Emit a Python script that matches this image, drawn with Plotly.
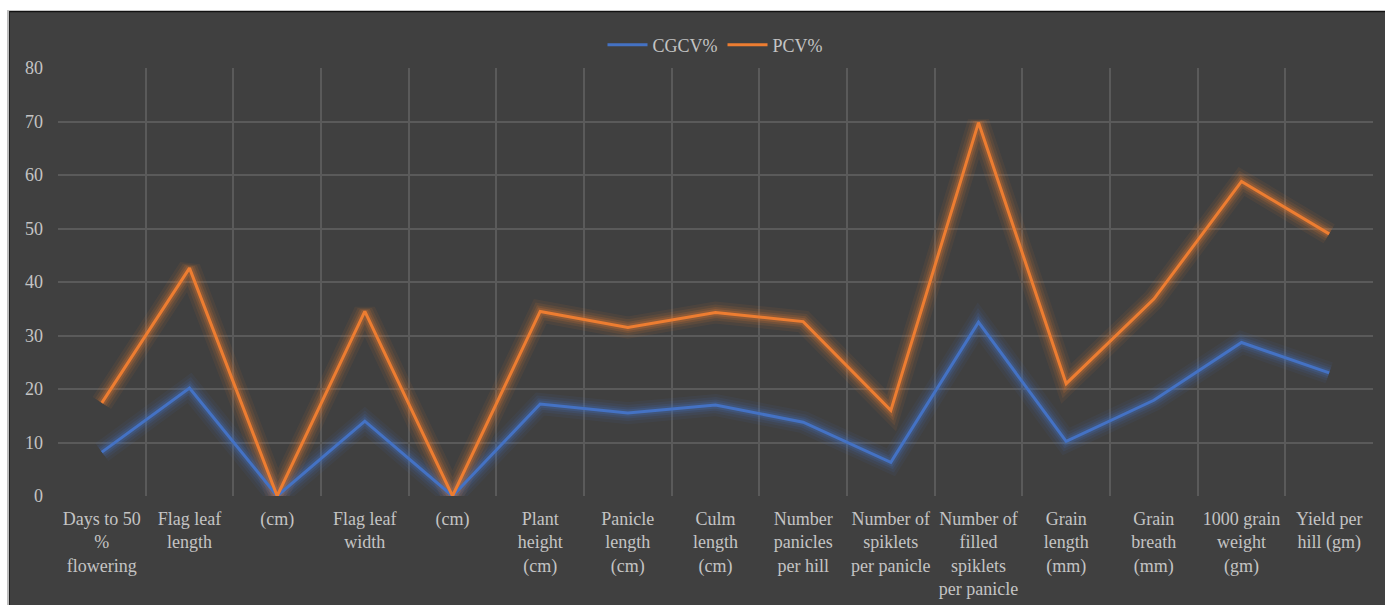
import plotly.graph_objects as go

categories = [
    "Days to 50<br>%<br>flowering",
    "Flag leaf<br>length",
    "(cm)",
    "Flag leaf<br>width",
    "(cm)",
    "Plant<br>height<br>(cm)",
    "Panicle<br>length<br>(cm)",
    "Culm<br>length<br>(cm)",
    "Number<br>panicles<br>per hill",
    "Number of<br>spiklets<br>per panicle",
    "Number of<br>filled<br>spiklets<br>per panicle",
    "Grain<br>length<br>(mm)",
    "Grain<br>breath<br>(mm)",
    "1000 grain<br>weight<br>(gm)",
    "Yield per<br>hill (gm)",
]
cgcv = [8.2, 20.2, 0, 14.0, 0, 17.2, 15.5, 17.0, 13.8, 6.3, 32.5, 10.2, 17.9, 28.7, 23.0]
pcv = [17.4, 42.6, 0, 34.5, 0, 34.5, 31.5, 34.3, 32.6, 16.0, 69.8, 21.0, 36.8, 58.8, 49.0]
y_ticks = [0, 10, 20, 30, 40, 50, 60, 70, 80]

BLUE = "#4472C4"
ORANGE = "#ED7D31"
BG = "#404040"
TXT = "#c4c4c4"
GRID = "#5a5a5a"
FONT = "Liberation Serif"

x = list(range(len(categories)))
fig = go.Figure()

for vals, col, name in [(cgcv, BLUE, "CGCV%"), (pcv, ORANGE, "PCV%")]:
    for w, op in [(22, 0.07), (16, 0.10), (11, 0.15), (7, 0.22)]:
        fig.add_trace(go.Scatter(x=x, y=vals, mode="lines", line=dict(color=col, width=w),
                                 opacity=op, showlegend=False, hoverinfo="skip"))
for vals, col, name in [(cgcv, BLUE, "CGCV%"), (pcv, ORANGE, "PCV%")]:
    fig.add_trace(go.Scatter(x=x, y=vals, mode="lines", name=name,
                             line=dict(color=col, width=3)))

# white outer strips and border
L, R, T, B = 58, 12, 68, 109
W, H = 1385, 605
pw, ph = W - L - R, H - T - B
def px(v): return (v - L) / pw
def py(v): return (H - B - v) / ph

fig.add_shape(type="rect", xref="paper", yref="paper", x0=px(0), x1=px(W), y0=py(11), y1=py(-1),
              fillcolor="white", line_width=0, layer="above")
fig.add_shape(type="rect", xref="paper", yref="paper", x0=px(-1), x1=px(7), y0=py(H + 1), y1=py(0),
              fillcolor="white", line_width=0, layer="above")
fig.add_shape(type="line", xref="paper", yref="paper", x0=px(7), x1=px(W), y0=py(11.5), y1=py(11.5),
              line=dict(color="#111111", width=1.5), layer="above")
fig.add_shape(type="line", xref="paper", yref="paper", x0=px(8), x1=px(8), y0=py(11), y1=py(H),
              line=dict(color="#bdbdbd", width=2), layer="above")
fig.add_shape(type="line", xref="paper", yref="paper", x0=px(9.5), x1=px(9.5), y0=py(11), y1=py(H),
              line=dict(color="#222222", width=1), layer="above")

fig.update_layout(
    width=W, height=H,
    margin=dict(l=L, r=R, t=T, b=B, autoexpand=False),
    paper_bgcolor=BG, plot_bgcolor=BG,
    font=dict(family=FONT, color=TXT, size=18),
    legend=dict(orientation="h", x=0.5, xanchor="center", y=py(45), yanchor="middle",
                font=dict(size=18, color=TXT, family=FONT), bgcolor="rgba(0,0,0,0)", itemwidth=40),
    showlegend=True,
)
fig.update_xaxes(
    range=[-0.5, len(categories) - 0.5], automargin=False,
    tickmode="array", tickvals=x, ticktext=categories,
    showgrid=False, zeroline=False, showline=False, ticks="",
    tickfont=dict(size=18, color=TXT, family=FONT), ticklabelstandoff=10,
    minor=dict(tickmode="array", tickvals=[i - 0.5 for i in range(len(categories) + 1)],
               showgrid=True, gridcolor=GRID, gridwidth=1.5, ticks=""),
)
fig.update_yaxes(
    range=[0, 80], tickmode="array", tickvals=y_ticks, automargin=False,
    showgrid=True, gridcolor=GRID, gridwidth=1.5, zeroline=False, showline=False,
    tickfont=dict(size=18, color=TXT, family=FONT), ticks="", ticklabelstandoff=14,
)

fig.write_html("out.html")
